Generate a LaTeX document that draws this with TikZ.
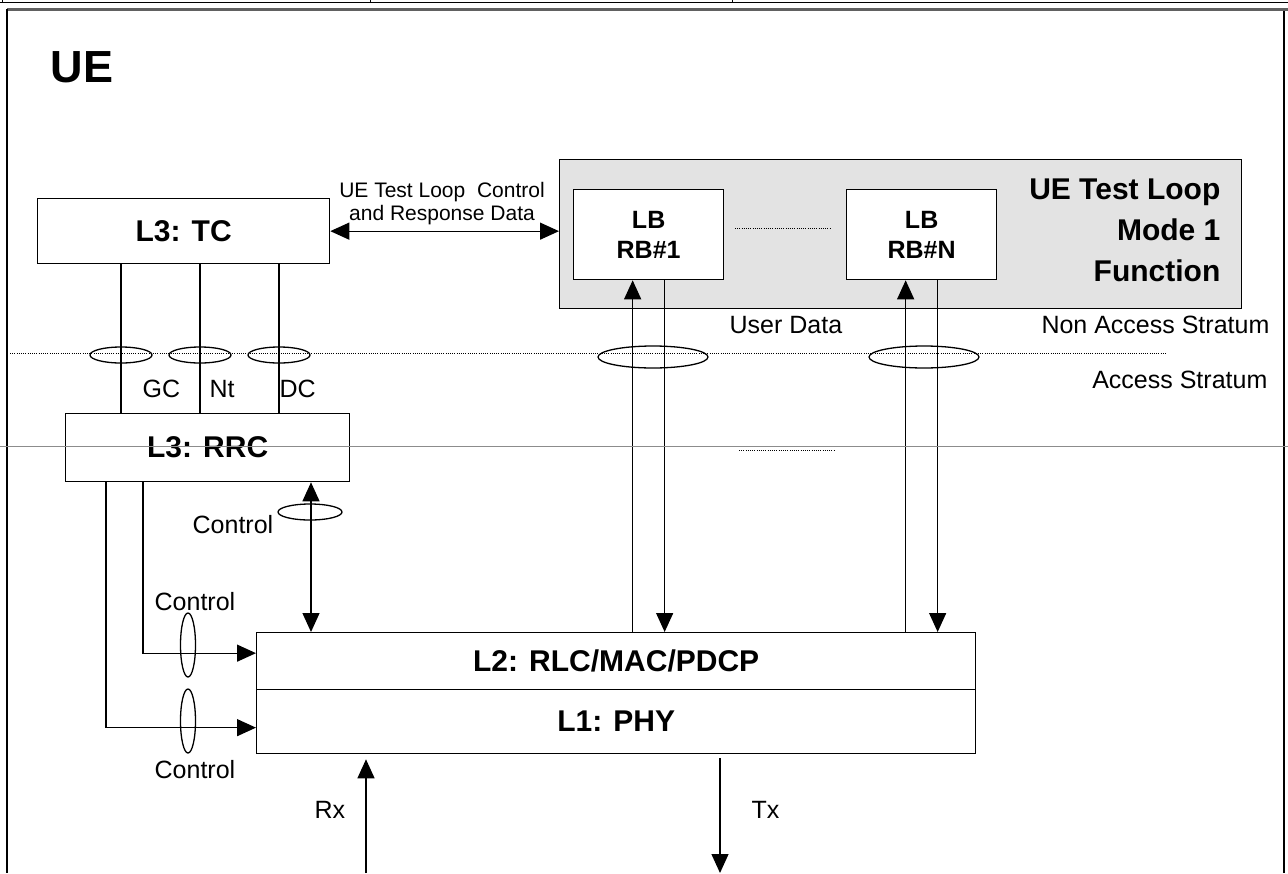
\documentclass[tikz,border=0pt]{standalone}
\usepackage{fontspec}
\setmainfont{Liberation Sans}
\usetikzlibrary{arrows.meta}
\tikzset{
  layerbox/.style={draw, fill=white, inner sep=0pt, anchor=north west, font=\fontsize{30}{36}\selectfont\bfseries},
  lbbox/.style={layerbox, minimum width=150pt, minimum height=90pt, align=center, font=\fontsize{25}{30}\selectfont\bfseries},
  lbl/.style={inner sep=0pt, anchor=base west, font=\fontsize{25}{30}\selectfont},
  strat/.style={line width=1pt, dash pattern=on 1pt off 1.2pt},
}
\begin{document}
\begin{tikzpicture}[x=1pt,y=-1pt,line width=1.3pt,>={Triangle[length=19pt,width=17pt]}]
\useasboundingbox (0,0) rectangle (1288,873);

% page frame
\draw[line width=1pt] (0,2) -- (1288,2);
\foreach \x in {2,370,732}
  \draw[line width=1pt] (\x,0) -- (\x,2);
\fill[black!62] (7,8) rectangle (1288,11);
\draw[line width=2pt] (7,9) -- (7,873);
\draw[line width=2pt] (1284,11) -- (1284,873);

\node[inner sep=0pt, anchor=base west, font=\fontsize{45}{54}\selectfont\bfseries] (ue) at (50,82) {UE};

% layers
\node[layerbox, minimum width=292pt, minimum height=65pt] (tc) at (37,198) {L3: TC};
\node[layerbox, fill=black!11, minimum width=682pt, minimum height=149pt] (tlm) at (559,159) {};
\node[inner sep=0pt, anchor=north east, align=right, font=\fontsize{30}{41}\selectfont\bfseries] (tlmname) at (1221,178) {UE Test Loop\\Mode 1\\Function};
\node[lbbox] (lb1) at (573,189) {LB\\RB\#1};
\node[lbbox] (lbn) at (846,189) {LB\\RB\#N};
\node[layerbox, minimum width=284pt, minimum height=68pt] (rrc) at (65,413) {L3: RRC};
\node[layerbox, minimum width=719pt, minimum height=57pt] (l2) at (256,632) {L2: RLC/MAC/PDCP};
\node[layerbox, minimum width=719pt, minimum height=64pt] (l1) at (256,689) {L1: PHY};

\draw[strat] (735,228) -- (831,228);
\draw[<->] (tc.east) -- (tlm.west |- tc.east);
\node[inner sep=0pt, anchor=north, align=center, font=\fontsize{21}{23}\selectfont] (tlctl) at (442,182) {UE Test Loop~ Control\\and Response Data};

% stratum border
\draw[strat] (10,353) -- (1166,353);
\draw[strat] (739,450) -- (835,450);
\node[lbl, anchor=base east] (nas) at (1270,333) {Non Access Stratum};
\node[lbl, anchor=base east] (as) at (1268,388) {Access Stratum};
\node[lbl] (udata) at (729,333) {User Data};

\foreach \x in {121,200,279}
{
  \draw (\x,0 |- tc.south) -- (\x,0 |- rrc.north);
  \draw (\x,355) ellipse (31pt and 8pt);
}
\node[lbl] (gc) at (142,397) {GC};
\node[lbl] (nt) at (209,397) {Nt};
\node[lbl] (dc) at (279,397) {DC};

% user data
\draw[->] ([xshift=-16pt]lb1.south |- l2.north) -- ([xshift=-16pt]lb1.south);
\draw[->] ([xshift=16pt]lb1.south) -- ([xshift=16pt]lb1.south |- l2.north);
\draw[->] ([xshift=-16pt]lbn.south |- l2.north) -- ([xshift=-16pt]lbn.south);
\draw[->] ([xshift=16pt]lbn.south) -- ([xshift=16pt]lbn.south |- l2.north);
\draw (653,357) ellipse (55pt and 11pt);
\draw (924,357) ellipse (55pt and 11pt);

% control
\draw[<->] (311,0 |- rrc.south) -- (311,0 |- l2.north);
\draw (310,512) ellipse (32pt and 8pt);
\node[lbl] (ctl1) at (192,533) {Control};
\draw[->] (143,0 |- rrc.south) |- ([yshift=8pt]l2.west);
\draw[->] (106,0 |- rrc.south) |- ([yshift=-6pt]l1.west);
\draw (188,645) ellipse (7.5pt and 32pt);
\draw (188,721) ellipse (7.5pt and 32pt);
\node[lbl] (ctl2) at (154,610) {Control};
\node[lbl] (ctl3) at (154,778) {Control};

% radio
\coordinate (rxin) at (366,873);
\coordinate (txout) at (720,873);
\draw[->, shorten >=5pt] (rxin) -- (rxin |- l1.south);
\draw[->, shorten <=4pt] (txout |- l1.south) -- (txout);
\node[lbl] (rx) at (314,818) {Rx};
\node[lbl] (tx) at (751,818) {Tx};

\draw[black!45, line width=1pt] (0,446) -- (1288,446);
\end{tikzpicture}
\end{document}
